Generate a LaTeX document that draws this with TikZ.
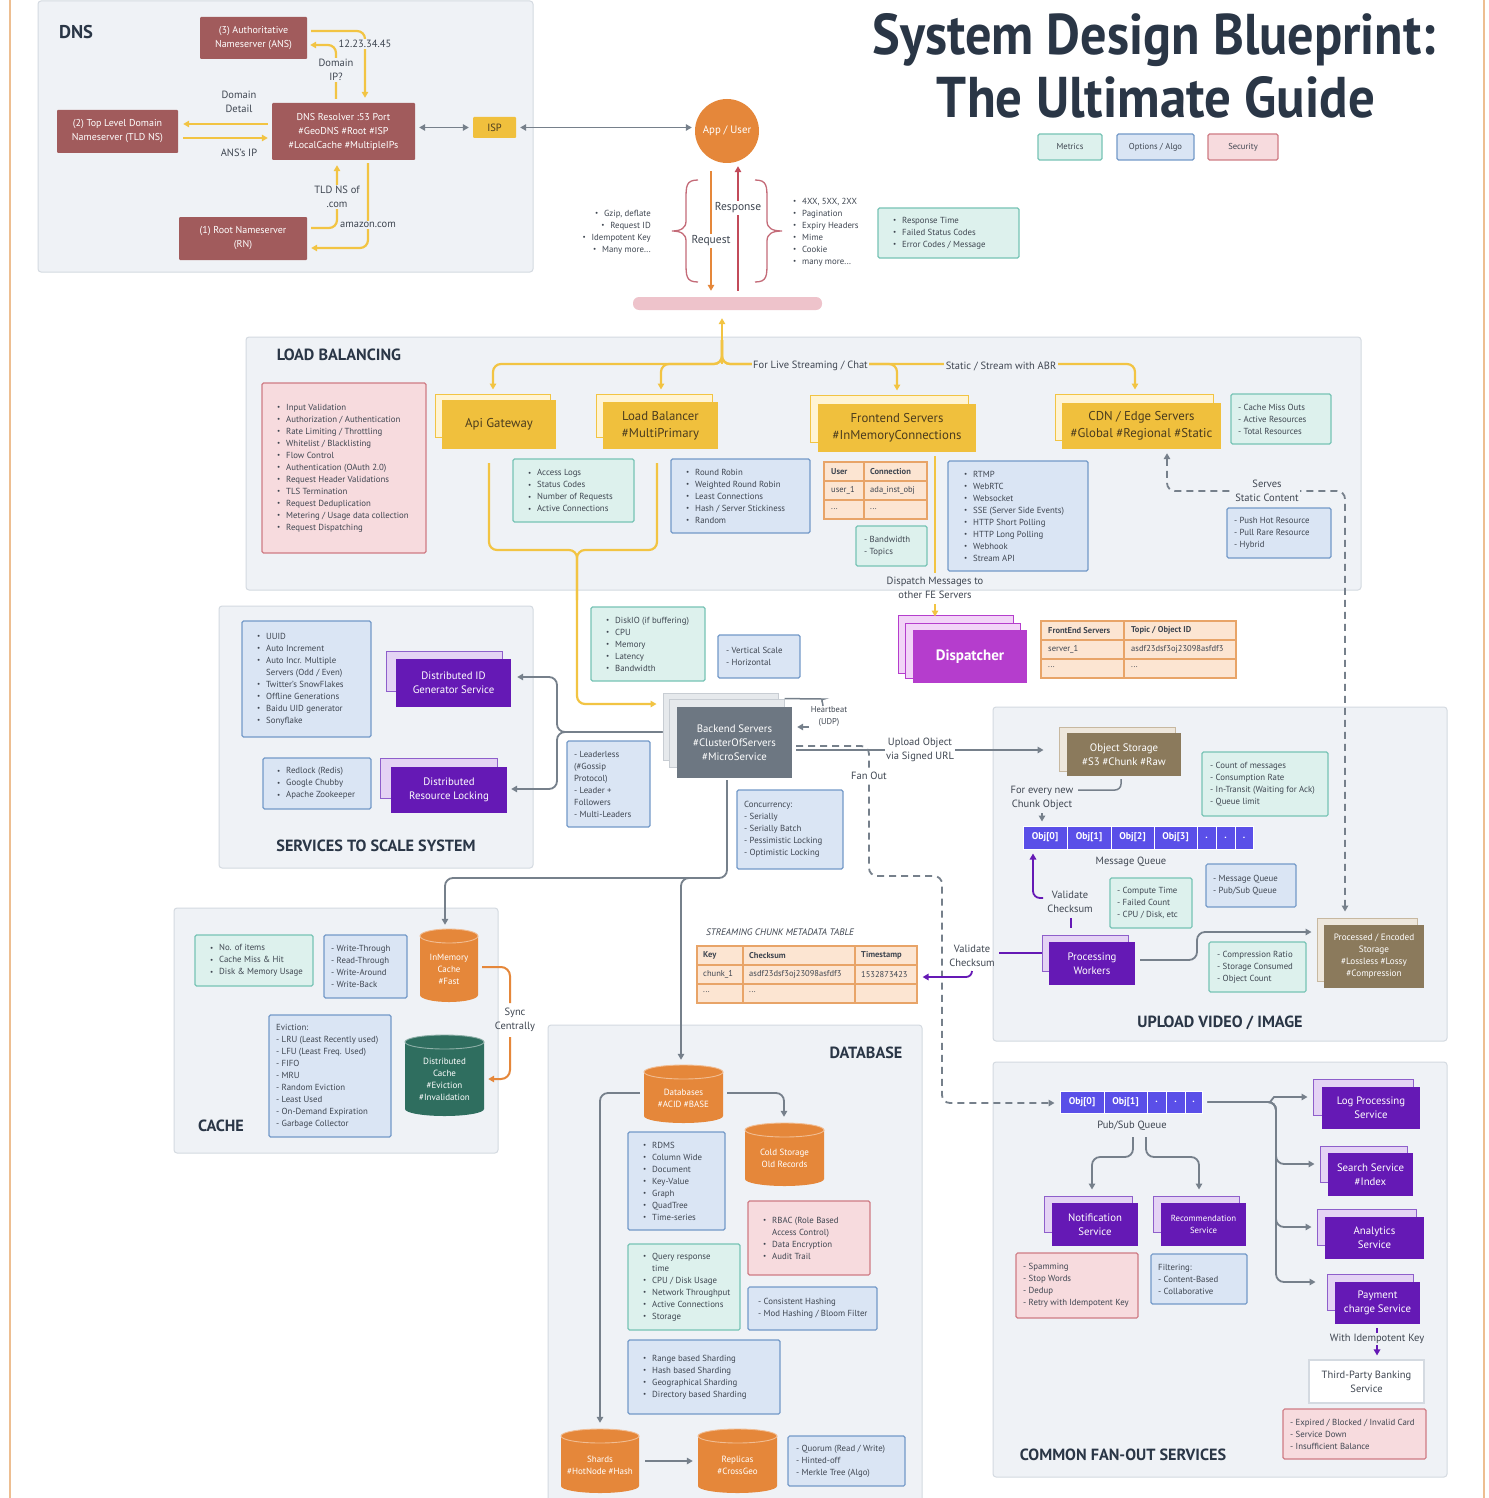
\documentclass[tikz,border=0pt]{standalone}
\usepackage{fontspec}
\setmainfont{PT Sans}
\usepackage{graphicx}
\usetikzlibrary{arrows.meta,calc}
\definecolor{secbg}{HTML}{EFF2F6}
\definecolor{secbd}{HTML}{D4DAE1}
\definecolor{dnsred}{HTML}{A15B5C}
\definecolor{yel}{HTML}{F2C443}
\definecolor{ybox}{HTML}{F0C03D}
\definecolor{ybk}{HTML}{FFF4D3}
\definecolor{ytext}{HTML}{4B3C1E}
\definecolor{garr}{HTML}{76808B}
\definecolor{orng}{HTML}{E5873A}
\definecolor{respred}{HTML}{C24B5A}
\definecolor{bracec}{HTML}{C46B78}
\definecolor{pinkbar}{HTML}{EEC3CB}
\definecolor{tealF}{HTML}{DDF1ED}
\definecolor{tealB}{HTML}{77C3B5}
\definecolor{blueF}{HTML}{DAE5F4}
\definecolor{blueB}{HTML}{7399C8}
\definecolor{redF}{HTML}{F7DBDE}
\definecolor{redB}{HTML}{CF7B84}
\definecolor{tabF}{HTML}{FCE5D2}
\definecolor{tabB}{HTML}{E8A468}
\definecolor{dispP}{HTML}{B53DCD}
\definecolor{dispBk}{HTML}{F2D4F7}
\definecolor{purp}{HTML}{6519B5}
\definecolor{purpBk}{HTML}{E4D3F4}
\definecolor{purpBd}{HTML}{8E5FCB}
\definecolor{qblue}{HTML}{5A4FE8}
\definecolor{beG}{HTML}{6D7782}
\definecolor{beBk}{HTML}{E6E9EC}
\definecolor{beBd}{HTML}{C8CDD3}
\definecolor{brn}{HTML}{8B7A5C}
\definecolor{brnBk}{HTML}{EEE7DC}
\definecolor{brnBd}{HTML}{C7B8A0}
\definecolor{dgreen}{HTML}{2F6E5F}
\definecolor{ttl}{HTML}{2A3646}
\definecolor{lt}{HTML}{3F4651}
\definecolor{edgec}{HTML}{EDBE91}
\newcommand\fs[2]{\fontsize{#1}{#2}\selectfont}
\newcommand\bl{\makebox[9pt][l]{\raisebox{0.1ex}{\scalebox{0.8}{\textbullet}}}}
\newcommand\ind{\hspace*{9pt}}
\newcommand\bx[8][]{\node[#2,minimum width={#6-#4},minimum height={#7-#5},#1] (#3) at ({(#4+#6)/2},{(#5+#7)/2}) {#8};}
\newcommand\lx[8][8]{\node[#2,minimum width={#6-#4},minimum height={#7-#5}] (#3) at ({(#4+#6)/2},{(#5+#7)/2}) {};\node[lst,anchor=west] (#3txt) at ({#4+#1},{(#5+#7)/2}) {#8};}
\newcommand\mycyl[7]{%
 \pgfmathsetmacro\CYcx{(#2+#4)/2}%
 \pgfmathsetmacro\CYrx{(#4-#2)/2}%
 \pgfmathsetmacro\CYyt{#3+7}%
 \pgfmathsetmacro\CYyb{#5-7}%
 \pgfmathsetmacro\CYcy{(#3+#5)/2}%
 \fill[#6] (#2,\CYyt) -- (#2,\CYyb) arc[start angle=180,end angle=360,x radius=\CYrx pt,y radius=7pt] -- (#4,\CYyt) -- cycle;
 \filldraw[fill=#6, draw=#6!55!white, line width=0.9pt] (\CYcx,\CYyt) ellipse[x radius=\CYrx pt,y radius=7pt];
 \node[inner sep=0pt, minimum width={#4-#2}, minimum height={#5-#3}] (#1) at (\CYcx,\CYcy) {};
 \node[cyltxt] (#1txt) at (\CYcx,{\CYcy+4}) {#7};
}
\begin{document}
\begin{tikzpicture}[x=1pt,y=-1pt,
 >={Triangle[length=6pt,width=6.5pt]},
 sect/.style={fill=secbg, draw=secbd, line width=1pt, rounded corners=3pt, inner sep=0pt},
 head/.style={font=\fs{16.2}{19}\bfseries, text=ttl, inner sep=0pt},
 rb/.style={fill=dnsred, text=white, font=\fs{10}{14}, align=center, inner sep=0pt, rounded corners=1pt},
 lbl/.style={font=\fs{10.5}{14}, text=lt, align=center, inner sep=1.5pt},
 lst/.style={font=\fs{8.8}{12}, text=lt, align=left, inner sep=0pt},
 boxT/.style={fill=tealF, draw=tealB, line width=1.1pt, rounded corners=1.5pt, inner sep=0pt},
 boxB/.style={fill=blueF, draw=blueB, line width=1.1pt, rounded corners=1.5pt, inner sep=0pt},
 boxR/.style={fill=redF, draw=redB, line width=1.1pt, rounded corners=1.5pt, inner sep=0pt},
 wbox/.style={fill=white, draw=secbd, line width=1.2pt, text=lt, font=\fs{10.5}{14}, align=center, inner sep=0pt},
 yback/.style={fill=ybk, draw=yel, line width=1pt, inner sep=0pt},
 yfront/.style={fill=ybox, text=ytext, font=\fs{12.8}{17}, align=center, inner sep=0pt},
 pback/.style={fill=purpBk, draw=purpBd, line width=1pt, inner sep=0pt},
 pfront/.style={fill=purp, text=white, font=\fs{10.8}{14}, align=center, inner sep=0pt},
 dback/.style={fill=dispBk, draw=dispP, line width=1pt, inner sep=0pt},
 dfront/.style={fill=dispP, text=white, font=\fs{15}{18}\bfseries, inner sep=0pt},
 beback/.style={fill=beBk, draw=beBd, line width=1pt, inner sep=0pt},
 befront/.style={fill=beG, text=white, font=\fs{10.8}{14}, align=center, inner sep=0pt},
 brback/.style={fill=brnBk, draw=brnBd, line width=1pt, inner sep=0pt},
 brfront/.style={fill=brn, text=white, font=\fs{10.8}{14}, align=center, inner sep=0pt},
 qcell/.style={fill=qblue, draw=white, line width=1pt, text=white, font=\fs{9.8}{12}\bfseries, inner sep=0pt},
 cyltxt/.style={text=white, font=\fs{9}{12}, align=center, inner sep=0pt},
 tabbox/.style={fill=tabF, draw=tabB, line width=1.2pt, inner sep=0pt},
 tabline/.style={draw=tabB, line width=1.2pt},
 tabt/.style={font=\fs{8.5}{10}, text=lt, anchor=west, inner sep=0pt},
 tabh/.style={tabt, font=\fs{8.5}{10}\bfseries},
 gl/.style={draw=garr, line width=1.8pt, rounded corners=8pt},
 ga/.style={gl, ->},
 gda/.style={gl, dash pattern=on 7pt off 5pt},
 yl/.style={draw=yel, line width=2.2pt, rounded corners=8pt},
 ya/.style={yl, ->},
 pl/.style={draw=purp, line width=1.8pt, rounded corners=7pt},
 pa/.style={pl, ->},
 oa/.style={draw=orng, line width=2pt, rounded corners=9pt, ->}
]
\useasboundingbox (0,0) rectangle (1488,1498);
\fill[white] (0,0) rectangle (1488,1498);
\draw[draw=edgec, line width=1.5pt] (10,0) -- (10,1498);
\draw[draw=edgec, line width=1.5pt] (1484,0) -- (1484,1498);

% ---------------- sections
\bx{sect}{dnss}{38}{1}{533}{272}{}
\bx{sect}{lbs}{246}{337}{1361}{590}{}
\bx{sect}{svs}{219}{606}{533}{868}{}
\bx{sect}{ups}{993}{707}{1447}{1041}{}
\bx{sect}{cas}{174}{908}{498}{1153}{}
\bx{sect}{dbs}{548}{1025}{922}{1510}{}
\bx{sect}{fos}{993}{1062}{1447}{1477}{}

\node[head, font=\fs{18.5}{20}\bfseries] (dnsh) at (76,32) {DNS};
\node[head] (lbh) at (339,355) {LOAD BALANCING};
\node[head] (svh) at (376,846) {SERVICES TO SCALE SYSTEM};
\node[head] (uph) at (1220,1023) {UPLOAD VIDEO / IMAGE};
\node[head] (cah) at (221,1126) {CACHE};
\node[head] (dbh) at (866,1053) {DATABASE};
\node[head] (foh) at (1123,1455) {COMMON FAN-OUT SERVICES};

% ---------------- title and legend
\node[anchor=base, text=ttl, inner sep=0pt] (t1) at (1154,55) {\resizebox{563pt}{41pt}{\bfseries System Design Blueprint:}};
\node[anchor=base, text=ttl, inner sep=0pt] (t2) at (1156,118) {\resizebox{438pt}{41pt}{\bfseries The Ultimate Guide}};
\bx[font=\fs{8.6}{10}, text=lt]{boxT}{lgm}{1038}{134}{1102}{160}{Metrics}
\bx[font=\fs{8.6}{10}, text=lt]{boxB}{lgo}{1117}{134}{1194}{160}{Options / Algo}
\bx[font=\fs{8.6}{10}, text=lt]{boxR}{lgs}{1208}{134}{1278}{160}{Security}

% ---------------- DNS
\bx{rb}{ans}{200}{17}{307}{59}{(3) Authoritative\\Nameserver (ANS)}
\bx{rb}{tld}{57}{110}{178}{153}{(2) Top Level Domain\\Nameserver (TLD NS)}
\bx{rb}{res}{272}{103}{415}{160}{DNS Resolver :53 Port\\\#GeoDNS \#Root \#ISP\\\#LocalCache \#MultipleIPs}
\bx{rb}{rn}{179}{217}{307}{260}{(1) Root Nameserver\\(RN)}
\bx[fill=ybox, text=ytext, font=\fs{10.5}{12}]{rb}{isp}{473}{117}{516}{138}{ISP}

% ---------------- App / request
\node[circle, fill=orng, text=white, minimum size=64pt, inner sep=0pt, font=\fs{10.8}{12}] (app) at (727,131) {App / User};
\node[fill=pinkbar, rounded corners=6pt, minimum width=189pt, minimum height=13pt, inner sep=0pt] (bar) at (727.5,303.5) {};
\draw[draw=bracec, line width=1.3pt] (698,180) .. controls (686,180) and (686,186) .. (686,200) -- (686,221) .. controls (686,228) and (681,231) .. (672,231) .. controls (681,231) and (686,234) .. (686,241) -- (686,262) .. controls (686,276) and (686,282) .. (698,282);
\draw[draw=bracec, line width=1.3pt] (755,180) .. controls (767,180) and (767,186) .. (767,200) -- (767,221) .. controls (767,228) and (772,231) .. (782,231) .. controls (772,231) and (767,234) .. (767,241) -- (767,262) .. controls (767,276) and (767,282) .. (755,282);
\node[lst, align=right, anchor=east] (reql) at (651,232) {\bl Gzip, deflate\\\bl Request ID\\\bl Idempotent Key\\\bl Many more...};
\node[lst, anchor=west] (resl) at (793,232) {\bl 4XX, 5XX, 2XX\\\bl Pagination\\\bl Expiry Headers\\\bl Mime\\\bl Cookie\\\bl many more...};
\lx[15]{boxT}{metr}{878}{208}{1019}{258}{\bl Response Time\\\bl Failed Status Codes\\\bl Error Codes / Message}

% ---------------- Load balancing
\lx[15]{boxR}{sec}{262}{383}{426}{553}{\bl Input Validation\\\bl Authorization / Authentication\\\bl Rate Limiting / Throttling\\\bl Whitelist / Blacklisting\\\bl Flow Control\\\bl Authentication (OAuth 2.0)\\\bl Request Header Validations\\\bl TLS Termination\\\bl Request Deduplication\\\bl Metering / Usage data collection\\\bl Request Dispatching}
\bx{yback}{apib}{435}{394}{550}{437}{}
\bx{yfront}{api}{442}{400}{556}{449}{Api Gateway}
\bx{yback}{lbb}{596}{394}{712}{437}{}
\bx{yfront}{lb}{603}{402}{718}{449}{Load Balancer\\\#MultiPrimary}
\bx{yback}{feb}{810}{395}{968}{442}{}
\bx{yfront}{fe}{818}{404}{976}{452}{Frontend Servers\\\#InMemoryConnections}
\bx{yback}{cdnb}{1055}{394}{1213}{440}{}
\bx{yfront}{cdn}{1062}{403}{1221}{449}{CDN / Edge Servers\\\#Global \#Regional \#Static}
\lx[15]{boxT}{alog}{513}{459}{634}{522}{\bl Access Logs\\\bl Status Codes\\\bl Number of Requests\\\bl Active Connections}
\lx[15]{boxB}{lbalg}{671}{459}{810}{533}{\bl Round Robin\\\bl Weighted Round Robin\\\bl Least Connections\\\bl Hash / Server Stickiness\\\bl Random}
\bx{tabbox}{fet}{824}{462}{927}{519}{}
\draw[tabline] (864,462) -- (864,519) (824,481) -- (927,481) (824,500) -- (927,500);
\node[tabh] (fet1) at (831,471.5) {User};
\node[tabh] (fet2) at (870,471.5) {Connection};
\node[tabt] (fet3) at (831,490.5) {user\_1};
\node[tabt] (fet4) at (870,490.5) {ada\_inst\_obj};
\node[tabt] (fet5) at (831,509) {...};
\node[tabt] (fet6) at (870,509) {...};
\lx[8]{boxT}{bw}{856}{526}{927}{566}{- Bandwidth\\- Topics}
\lx[16]{boxB}{proto}{948}{461}{1088}{571}{\bl RTMP\\\bl WebRTC\\\bl Websocket\\\bl SSE (Server Side Events)\\\bl HTTP Short Polling\\\bl HTTP Long Polling\\\bl Webhook\\\bl Stream API}
\lx[7]{boxT}{cdnm}{1231}{394}{1331}{444}{- Cache Miss Outs\\- Active Resources\\- Total Resources}
\lx[7]{boxB}{push}{1227}{508}{1331}{558}{- Push Hot Resource\\- Pull Rare Resource\\- Hybrid}

% ---------------- Dispatcher
\bx{dback}{dsb1}{898}{615}{1013}{673}{}
\bx{dback}{dsb2}{905}{623}{1020}{678}{}
\bx{dfront}{disp}{913}{630}{1027}{683}{Dispatcher}
\bx{tabbox}{dt}{1041}{621}{1236}{678}{}
\draw[tabline] (1124,621) -- (1124,678) (1041,640) -- (1236,640) (1041,659) -- (1236,659);
\node[tabh] (dt1) at (1048,630.5) {FrontEnd Servers};
\node[tabh] (dt2) at (1131,630.5) {Topic / Object ID};
\node[tabt] (dt3) at (1048,649.5) {server\_1};
\node[tabt] (dt4) at (1131,649.5) {asdf23dsf3oj23098asfdf3};
\node[tabt] (dt5) at (1048,667) {...};
\node[tabt] (dt6) at (1131,667) {...};

% ---------------- Services to scale
\lx[15]{boxB}{uuid}{242}{621}{371}{737}{\bl UUID\\\bl Auto Increment\\\bl Auto Incr. Multiple\\\ind Servers (Odd / Even)\\\bl Twitter’s SnowFlakes\\\bl Offline Generations\\\bl Baidu UID generator\\\bl Sonyflake}
\bx{pback}{idb}{386}{651}{502}{691}{}
\bx{pfront}{idg}{396}{659}{511}{707}{Distributed ID\\Generator Service}
\lx[14]{boxB}{rl}{263}{758}{371}{809}{\bl Redlock (Redis)\\\bl Google Chubby\\\bl Apache Zookeeper}
\bx{pback}{lockb}{380}{758}{497}{798}{}
\bx{pfront}{lock}{391}{767}{507}{813}{Distributed\\Resource Locking}
\lx[15]{boxT}{disk}{591}{607}{705}{681}{\bl DiskIO (if buffering)\\\bl CPU\\\bl Memory\\\bl Latency\\\bl Bandwidth}
\lx[8]{boxB}{vs}{718}{635}{800}{678}{- Vertical Scale\\- Horizontal}
\lx[7]{boxB}{lead}{567}{741}{650}{827}{- Leaderless\\(\#Gossip\\Protocol)\\- Leader +\\Followers\\- Multi-Leaders}
\bx{beback}{beb1}{663}{693}{778}{760}{}
\bx{beback}{beb2}{669}{699}{784}{767}{}
\bx{befront}{be}{677}{707}{792}{778}{Backend Servers\\\#ClusterOfServers\\\#MicroService}
\lx[7]{boxB}{conc}{737}{790}{843}{869}{Concurrency:\\- Serially\\- Serially Batch\\- Pessimistic Locking\\- Optimistic Locking}

% ---------------- Upload
\bx{brback}{obsb}{1059}{727}{1175}{771}{}
\bx{brfront}{obs}{1067}{733}{1181}{776}{Object Storage\\\#S3 \#Chunk \#Raw}
\bx{qcell}{q0}{1023}{826}{1067}{849}{Obj[0]}
\bx{qcell}{q1}{1067}{826}{1111}{849}{Obj[1]}
\bx{qcell}{q2}{1111}{826}{1154}{849}{Obj[2]}
\bx{qcell}{q3}{1154}{826}{1197}{849}{Obj[3]}
\bx{qcell}{q4}{1197}{826}{1216}{849}{.}
\bx{qcell}{q5}{1216}{826}{1235}{849}{.}
\bx{qcell}{q6}{1235}{826}{1253}{849}{.}
\node[lbl] (mql) at (1131,862) {Message Queue};
\lx[8]{boxT}{cnt}{1202}{752}{1328}{816}{- Count of messages\\- Consumption Rate\\- In-Transit (Waiting for Ack)\\- Queue limit}
\lx[7]{boxT}{comp}{1110}{878}{1192}{928}{- Compute Time\\- Failed Count\\- CPU / Disk, etc}
\lx[7]{boxB}{mqo}{1206}{864}{1296}{907}{- Message Queue\\- Pub/Sub Queue}
\bx{pback}{pwb}{1042}{935}{1128}{971}{}
\bx{pfront}{pw}{1049}{942}{1135}{985}{Processing\\Workers}
\lx[8]{boxT}{cmpr}{1209}{942}{1306}{992}{- Compression Ratio\\- Storage Consumed\\- Object Count}
\bx{brback}{encb}{1317}{918}{1417}{981}{}
\bx[font=\fs{9.2}{12}]{brfront}{enc}{1324}{925}{1424}{988}{Processed / Encoded\\Storage\\\#Lossless \#Lossy\\\#Compression}

% ---------------- metadata table
\node[font=\fs{9.4}{11}\itshape, text=lt, inner sep=0pt] (mtl) at (780,932) {STREAMING CHUNK METADATA TABLE};
\bx{tabbox}{mt}{697}{946}{917}{1003}{}
\draw[tabline] (743,946) -- (743,1003) (855,946) -- (855,1003) (697,965) -- (917,965) (697,984) -- (917,984);
\node[tabh] (mt1) at (703,955.5) {Key};
\node[tabh] (mt2) at (749,955.5) {Checksum};
\node[tabh] (mt3) at (861,955.5) {Timestamp};
\node[tabt] (mt4) at (703,974.5) {chunk\_1};
\node[tabt] (mt5) at (749,974.5) {asdf23dsf3oj23098asfdf3};
\node[tabt] (mt6) at (861,974.5) {1532873423};
\node[tabt] (mt7) at (703,992) {...};
\node[tabt] (mt8) at (749,992) {...};

% ---------------- Cache
\lx[15]{boxT}{cm}{195}{935}{313}{986}{\bl No. of items\\\bl Cache Miss \& Hit\\\bl Disk \& Memory Usage}
\lx[7]{boxB}{wt}{324}{935}{407}{998}{- Write-Through\\- Read-Through\\- Write-Around\\- Write-Back}
\mycyl{imc}{420}{929}{478}{1002}{orng}{InMemory\\Cache\\\#Fast}
\lx[7]{boxB}{evi}{269}{1015}{391}{1137}{Eviction:\\- LRU (Least Recently used)\\- LFU (Least Freq. Used)\\- FIFO\\- MRU\\- Random Eviction\\- Least Used\\- On-Demand Expiration\\- Garbage Collector}
\mycyl{dc}{405}{1035}{484}{1116}{dgreen}{Distributed\\Cache\\\#Eviction\\\#Invalidation}

% ---------------- Database
\mycyl{db}{644}{1065}{723}{1123}{orng}{Databases\\\#ACID \#BASE}
\mycyl{cold}{745}{1123}{824}{1186}{orng}{Cold Storage\\Old Records}
\lx[15]{boxB}{dbt}{628}{1132}{725}{1230}{\bl RDMS\\\bl Column Wide\\\bl Document\\\bl Key-Value\\\bl Graph\\\bl QuadTree\\\bl Time-series}
\lx[15]{boxR}{rbac}{748}{1201}{870}{1275}{\bl RBAC (Role Based\\\ind Access Control)\\\bl Data Encryption\\\bl Audit Trail}
\lx[15]{boxT}{qr}{628}{1244}{740}{1330}{\bl Query response\\\ind time\\\bl CPU / Disk Usage\\\bl Network Throughput\\\bl Active Connections\\\bl Storage}
\lx[10]{boxB}{hash}{748}{1287}{877}{1330}{- Consistent Hashing\\- Mod Hashing / Bloom Filter}
\lx[15]{boxB}{shard}{628}{1340}{780}{1414}{\bl Range based Sharding\\\bl Hash based Sharding\\\bl Geographical Sharding\\\bl Directory based Sharding}
\mycyl{shards}{561}{1429}{639}{1493}{orng}{Shards\\\#HotNode \#Hash}
\mycyl{repl}{698}{1429}{777}{1493}{orng}{Replicas\\\#CrossGeo}
\lx[8]{boxB}{quor}{788}{1436}{905}{1486}{- Quorum (Read / Write)\\- Hinted-off\\- Merkle Tree (Algo)}

% ---------------- Fan-out
\bx{qcell}{ps0}{1060}{1091}{1104}{1113}{Obj[0]}
\bx{qcell}{ps1}{1104}{1091}{1147}{1113}{Obj[1]}
\bx{qcell}{ps2}{1147}{1091}{1166}{1113}{.}
\bx{qcell}{ps3}{1166}{1091}{1185}{1113}{.}
\bx{qcell}{ps4}{1185}{1091}{1202}{1113}{.}
\node[lbl] (psl) at (1132,1126) {Pub/Sub Queue};
\bx{pback}{logb}{1313}{1079}{1413}{1115}{}
\bx{pfront}{logp}{1322}{1087}{1420}{1129}{Log Processing\\Service}
\bx{pback}{srchb}{1320}{1146}{1407}{1182}{}
\bx{pfront}{srch}{1328}{1153}{1413}{1196}{Search Service\\\#Index}
\bx{pback}{anab}{1317}{1209}{1416}{1245}{}
\bx{pfront}{ana}{1325}{1217}{1424}{1259}{Analytics\\Service}
\bx{pback}{payb}{1327}{1274}{1413}{1310}{}
\bx{pfront}{pay}{1335}{1282}{1420}{1324}{Payment\\charge Service}
\bx{pback}{notb}{1044}{1196}{1132}{1232}{}
\bx{pfront}{notif}{1052}{1203}{1138}{1246}{Notification\\Service}
\bx{pback}{recb}{1153}{1196}{1239}{1232}{}
\bx[font=\fs{8.8}{12}]{pfront}{rec}{1161}{1203}{1246}{1246}{Recommendation\\Service}
\bx{wbox}{bank}{1309}{1360}{1424}{1403}{Third-Party Banking\\Service}
\lx[7]{boxR}{payerr}{1283}{1409}{1426}{1459}{- Expired / Blocked / Invalid Card\\- Service Down\\- Insufficient Balance}
\lx[7]{boxR}{spam}{1016}{1253}{1138}{1318}{- Spamming\\- Stop Words\\- Dedup\\- Retry with Idempotent Key}
\lx[7]{boxB}{filt}{1151}{1254}{1247}{1304}{Filtering:\\- Content-Based\\- Collaborative}

% ================= connectors
% DNS
\draw[ya, shorten >=5pt] ($(ans.east)+(4,-7)$) -| (res.north -| 365,0);
\node[lbl, fill=secbg] (l1) at (365,44) {12.23.34.45};
\draw[ya, shorten <=4pt, shorten >=3pt] (res.north -| 336,0) |- ($(ans.east)+(0,7)$);
\node[lbl, fill=secbg] (l2) at (336,70) {Domain\\IP?};
\draw[ya, shorten <=4pt, shorten >=5pt] ($(res.west)+(0,-7.5)$) -- ($(tld.east)+(0,-7.5)$);
\draw[ya, shorten <=5pt, shorten >=4pt] ($(tld.east)+(0,6.5)$) -- ($(res.west)+(0,6.5)$);
\node[lbl] (l3) at (239,102) {Domain\\Detail};
\node[lbl] (l4) at (239,153) {ANS’s IP};
\draw[ya, shorten <=3pt, shorten >=4pt] (res.south -| 368,0) |- ($(rn.east)+(0,9.5)$);
\node[lbl, fill=secbg] (l5) at (368,225) {amazon.com};
\draw[ya, shorten <=4pt, shorten >=5pt] ($(rn.east)+(0,-10.5)$) -| (res.south -| 337,0);
\node[lbl, fill=secbg] (l6) at (337,197) {TLD NS of\\.com};
\draw[gl, <->, shorten <=4pt, shorten >=4pt] (res.east |- isp.west) -- (isp.west);
\draw[gl, <->, shorten <=4pt, shorten >=3pt] (isp.east) -- (app.west |- isp.east);

% request / response
\draw[draw=orng, line width=2pt, ->, shorten <=8pt, shorten >=6pt] (app.south -| 711,0) -- (bar.north -| 711,0);
\node[font=\fs{11.5}{13}, text=lt, fill=white, inner sep=2pt] (rq) at (711,241) {Request};
\draw[draw=respred, line width=2pt, ->, shorten <=6pt, shorten >=3pt] (bar.north -| 738,0) -- (app.south -| 738,0);
\node[font=\fs{11.5}{13}, text=lt, fill=white, inner sep=2pt] (rp) at (738,208) {Response};

% load balancing tree
\draw[ya, shorten >=8pt] (722,364) -- (bar.south -| 722,0);
\draw[ya, shorten >=4pt] (722,340) |- (493,364) -- (apib.north -| 493,0);
\draw[ya, shorten >=4pt] (722,340) |- (661,364) -- (lbb.north -| 661,0);
\draw[ya, shorten >=4pt] (722,340) |- (897,364) -- (feb.north -| 897,0);
\draw[ya, shorten >=4pt] (722,340) |- (1135,364) -- (cdnb.north -| 1135,0);
\node[lbl, fill=secbg] (l7) at (810.5,366) {For Live Streaming / Chat};
\node[lbl, fill=secbg] (l8) at (1001,366) {Static / Stream with ABR};
\draw[ya, shorten >=6pt] ($(api.south -| 489,0)+(0,14)$) |- (577,550) -- (577,704) -- (beb1.west |- 0,704);
\draw[yl] ($(lb.south -| 657,0)+(0,14)$) |- (577,550) -- (577,600);
\draw[yl] ($(fe.south -| 935,0)+(0,4)$) -- (935,573);
\draw[ya, shorten >=-2pt] (935,604) -- (dsb1.north -| 935,0);
\node[lbl] (l9) at (935,588) {Dispatch Messages to\\other FE Servers};
\draw[gda, <->, shorten <=4pt, shorten >=6pt] (cdn.south -| 1167,0) |- (1345,491) -- (encb.north -| 1345,0);
\node[lbl, fill=secbg] (l10) at (1267,491) {Serves\\Static Content};

% backend
\draw[ga, shorten >=6pt] (beb1.west |- 0,732) -- (557,732) |- (idg.east |- 0,677);
\draw[ga, shorten >=4pt] (beb1.west |- 0,732) -- (557,732) |- (lock.east |- 0,789);
\draw[gl, line width=1.5pt] (beb2.north east) -- (816,699) to[out=0,in=90] (823,706);
\node[lbl, font=\fs{8.5}{12}] (hb) at (829,716) {Heartbeat\\(UDP)};
\draw[gl, line width=1.5pt, ->, shorten >=5pt] (809,727) -- (be.east |- 0,727);
\draw[gda, ->, shorten <=4pt, shorten >=5pt] (be.east |- 0,746) -- (869,746) -- (869,876) -- (942,876) -- (942,1103) -- (ps0.west |- 0,1103);
\node[lbl, fill=white] (l11) at (869,776) {Fan Out};
\draw[ga, shorten <=4pt, shorten >=15pt] (be.east |- 0,750) -- (obsb.west |- 0,750);
\node[lbl, fill=white] (l12) at (920,750) {Upload Object\\via Signed URL};
\draw[ga, shorten <=2pt, shorten >=4pt] (be.south -| 727,0) -- (727,878) -- (445,878) -- (imc.north -| 445,0);
\draw[ga, shorten >=5pt] (700,878) -- (681,878) -- (db.north -| 681,0);

% upload
\draw[gl, line width=1.5pt, rounded corners=6pt] ($(obs.south -| 1121,0)+(0,3)$) -- (1121,790) -- (1078,790);
\node[lbl] (fen) at (1042,798) {For every new\\Chunk Object};
\draw[gl, line width=1.5pt, ->, shorten >=4pt] (1042,813) -- (q0.north -| 1042,0);
\draw[draw=purp, line width=1.8pt] ($(pwb.north -| 1071,0)+(0,-7)$) -- (1071,918);
\node[lbl] (vc1) at (1070,902) {Validate\\Checksum};
\draw[pa, shorten >=4pt] (1043,898) -| (q0.south -| 1033,0);
\draw[draw=purp, line width=1.8pt] (pwb.west |- 0,953) -- (999,953);
\node[lbl] (vc2) at (972,956) {Validate\\Checksum};
\draw[pa, rounded corners=6pt, shorten >=5pt] (972,971) |- (mt.east |- 0,977);
\draw[ga, shorten <=5pt, shorten >=5pt] (pw.east |- 0,960) -- (1197,960) -- (1197,932) -- (encb.west |- 0,932);

% cache
\draw[draw=orng, line width=2pt, rounded corners=9pt] ($(imc.east |- 0,967)+(4,0)$) -| (510,1003);
\draw[oa, shorten >=4pt] (510,1037) |- (dc.east |- 0,1079);
\node[lbl] (sync) at (515,1020) {Sync\\Centrally};

% database
\draw[ga, shorten <=4pt, shorten >=6pt] (db.east |- 0,1093) -| (cold.north -| 784,0);
\draw[ga, shorten <=4pt, shorten >=6pt] (db.west |- 0,1093) -| (shards.north -| 600,0);
\draw[ga, shorten <=6pt, shorten >=5pt] (shards.east |- 0,1461) -- (repl.west |- 0,1461);

% fan-out
\draw[ga, shorten >=6pt] (1133,1137) -- (1133,1157) -- (1092,1157) -- (notb.north -| 1092,0);
\draw[ga, shorten >=6pt] (1146,1137) -- (1146,1157) -- (1199,1157) -- (recb.north -| 1199,0);
\draw[ga, shorten <=5pt, shorten >=5pt] (ps4.east |- 0,1102) -- (1262,1102) to[out=0,in=180] (1282,1097) -- (logb.west |- 0,1097);
\draw[ga, shorten <=5pt, shorten >=5pt] (ps4.east |- 0,1102) -| (1276,1130) |- (srchb.west |- 0,1164);
\draw[ga, shorten <=5pt, shorten >=5pt] (ps4.east |- 0,1102) -| (1276,1130) |- (anab.west |- 0,1227);
\draw[ga, shorten <=5pt, shorten >=11pt] (ps4.east |- 0,1102) -| (1276,1130) |- (payb.west |- 0,1282);
\draw[pa, line width=1.5pt, shorten <=4pt, shorten >=4pt] (pay.south -| 1377,0) -- (bank.north -| 1377,0);
\node[lbl, fill=secbg] (idk) at (1377,1339) {With Idempotent Key};
\end{tikzpicture}
\end{document}
